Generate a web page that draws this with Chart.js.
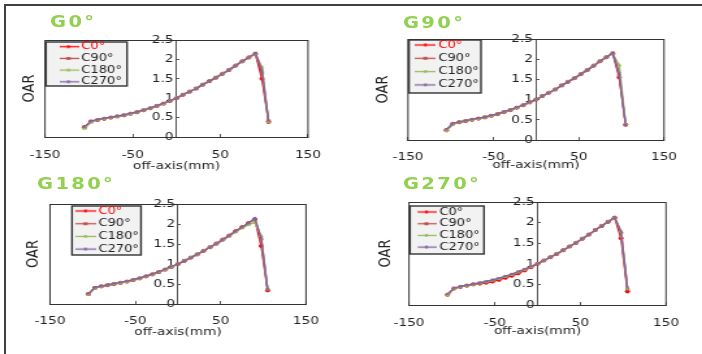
<!DOCTYPE html>
<html>
<head>
<meta charset="utf-8">
<script src="https://cdn.jsdelivr.net/npm/chart.js@4.4.1/dist/chart.umd.min.js"></script>
<style>
body { margin: 0; background: #fff; }
#page { position: relative; width: 702px; height: 354px; overflow: hidden; background: #fff; }
#frame { position: absolute; left: 4px; top: 4px; width: 700px; height: 352px; border-top: 2px solid #404040; border-left: 2px solid #404040; }
#stretch { position: absolute; left: 0; top: 0; width: 540px; height: 354px; transform: scaleX(1.3); transform-origin: 0 0; }
#stretch canvas { position: absolute; left: 0; top: 0; }
.gt { position: absolute; font: bold 15px "DejaVu Sans", sans-serif; color: #92D050; letter-spacing: 1.8px; line-height: 16px; white-space: nowrap; }
</style>
</head>
<body>
<div id="page">
  <div id="frame"></div>
  <div id="stretch">
    <canvas id="c1" width="540" height="354"></canvas>
    <canvas id="c2" width="540" height="354"></canvas>
    <canvas id="c3" width="540" height="354"></canvas>
    <canvas id="c4" width="540" height="354"></canvas>
    <div class="gt" style="left:38.5px;top:14px">G0°</div>
    <div class="gt" style="left:310px;top:15px">G90°</div>
    <div class="gt" style="left:28.5px;top:176px">G180°</div>
    <div class="gt" style="left:310px;top:176px">G270°</div>
  </div>
</div>
<script>
// off-axis positions (mm)
const offAxis = [-105, -97.5, -90, -82.5, -75, -67.5, -60, -52.5, -45, -37.5, -30, -22.5, -15, -7.5, 0,
                 7.5, 15, 22.5, 30, 37.5, 45, 52.5, 60, 67.5, 75, 82.5, 90, 97.5, 105];

const seriesNames = ['C0°', 'C90°', 'C180°', 'C270°'];
const xTicks = [-150, -50, 50, 150];
const yTicks = [0, 0.5, 1, 1.5, 2, 2.5];

// G0°
const g0_c0   = [0.25,0.40,0.44,0.47,0.50,0.53,0.56,0.60,0.64,0.69,0.74,0.80,0.86,0.93,1.00,1.09,1.17,1.25,1.35,1.44,1.53,1.63,1.73,1.84,1.95,2.05,2.14,1.50,0.40];
const g0_c90  = [0.26,0.40,0.44,0.47,0.50,0.53,0.56,0.60,0.64,0.69,0.74,0.80,0.86,0.93,1.00,1.09,1.17,1.25,1.35,1.44,1.53,1.63,1.73,1.84,1.95,2.05,2.15,1.65,0.38];
const g0_c180 = [0.22,0.38,0.44,0.47,0.50,0.53,0.56,0.60,0.64,0.69,0.74,0.80,0.86,0.93,1.00,1.09,1.17,1.25,1.35,1.44,1.53,1.63,1.73,1.84,1.95,2.05,2.14,1.80,0.40];
const g0_c270 = [0.26,0.41,0.45,0.48,0.51,0.54,0.57,0.61,0.65,0.70,0.75,0.81,0.87,0.94,1.00,1.09,1.17,1.25,1.35,1.44,1.53,1.63,1.73,1.84,1.95,2.05,2.17,1.72,0.42];
// G90°
const g90_c0   = [0.24,0.40,0.44,0.47,0.50,0.53,0.56,0.60,0.64,0.69,0.74,0.80,0.86,0.93,1.00,1.09,1.17,1.25,1.35,1.44,1.53,1.63,1.73,1.84,1.95,2.05,2.14,1.55,0.38];
const g90_c90  = [0.25,0.40,0.44,0.47,0.50,0.53,0.56,0.60,0.64,0.69,0.74,0.80,0.86,0.93,1.00,1.09,1.17,1.25,1.35,1.44,1.53,1.63,1.73,1.84,1.95,2.05,2.15,1.60,0.38];
const g90_c180 = [0.23,0.39,0.44,0.47,0.50,0.53,0.56,0.60,0.64,0.69,0.74,0.80,0.86,0.93,1.00,1.09,1.17,1.25,1.35,1.44,1.53,1.63,1.73,1.84,1.95,2.05,2.13,1.85,0.40];
const g90_c270 = [0.26,0.41,0.45,0.48,0.51,0.54,0.57,0.61,0.65,0.70,0.75,0.81,0.87,0.94,1.00,1.09,1.17,1.25,1.35,1.44,1.53,1.63,1.73,1.84,1.95,2.05,2.16,1.65,0.37];
// G180°
const g180_c0   = [0.25,0.40,0.44,0.47,0.50,0.53,0.56,0.60,0.64,0.69,0.74,0.80,0.86,0.93,1.00,1.08,1.16,1.24,1.33,1.42,1.51,1.61,1.71,1.82,1.92,2.02,2.12,1.45,0.34];
const g180_c90  = [0.25,0.40,0.44,0.47,0.50,0.53,0.56,0.60,0.64,0.69,0.74,0.80,0.86,0.93,1.00,1.08,1.16,1.24,1.33,1.42,1.51,1.61,1.71,1.82,1.92,2.02,2.12,1.62,0.36];
const g180_c180 = [0.24,0.39,0.44,0.47,0.50,0.53,0.56,0.60,0.64,0.69,0.74,0.80,0.86,0.93,1.00,1.08,1.16,1.24,1.33,1.42,1.50,1.60,1.70,1.80,1.90,1.98,2.04,1.70,0.38];
const g180_c270 = [0.26,0.41,0.45,0.48,0.51,0.54,0.57,0.61,0.65,0.70,0.75,0.81,0.87,0.94,1.00,1.08,1.16,1.24,1.33,1.42,1.51,1.61,1.71,1.82,1.92,2.02,2.15,1.65,0.37];
// G270°
const g270_c0   = [0.25,0.40,0.44,0.47,0.50,0.52,0.54,0.57,0.61,0.66,0.71,0.77,0.84,0.92,1.00,1.08,1.16,1.24,1.33,1.42,1.51,1.61,1.71,1.82,1.92,2.02,2.12,1.62,0.33];
const g270_c90  = [0.25,0.40,0.44,0.47,0.50,0.53,0.56,0.60,0.64,0.69,0.74,0.80,0.86,0.93,1.00,1.08,1.16,1.24,1.33,1.42,1.51,1.61,1.71,1.82,1.92,2.02,2.12,1.75,0.38];
const g270_c180 = [0.24,0.40,0.44,0.47,0.50,0.53,0.56,0.60,0.64,0.69,0.74,0.80,0.86,0.93,1.00,1.08,1.16,1.24,1.33,1.42,1.51,1.61,1.71,1.82,1.92,2.02,2.12,1.78,0.40];
const g270_c270 = [0.26,0.41,0.45,0.48,0.51,0.54,0.57,0.61,0.65,0.70,0.75,0.81,0.87,0.94,1.00,1.08,1.16,1.24,1.33,1.42,1.51,1.61,1.71,1.82,1.92,2.02,2.13,1.78,0.42];

const colors = ['#FF0000', '#C0504D', '#9BBB59', '#8064A2'];
const markers = ['circle', 'rect', 'triangle', 'crossRot'];

const S = 1.3, W = 540, H = 354;   // canvases are drawn narrow then stretched by S
const FS = 10;                      // legend font size

Chart.defaults.font.family = '"DejaVu Sans", Verdana, sans-serif';
Chart.defaults.color = '#222';

// little line + marker used as legend symbol
function legendIcon(color, style) {
  const c = document.createElement('canvas');
  c.width = 16; c.height = 7;
  const g = c.getContext('2d');
  g.strokeStyle = color; g.fillStyle = color; g.lineWidth = 1.3;
  g.beginPath(); g.moveTo(0, 3.5); g.lineTo(16, 3.5); g.stroke();
  if (style === 'rect') g.fillRect(6.5, 2, 3, 3);
  else { g.beginPath(); g.arc(8, 3.5, 1.4, 0, Math.PI * 2); g.fill(); }
  return c;
}

const panelFrame = {
  id: 'panelFrame',
  afterLayout(chart, args, o) {
    const lg = chart.legend;
    const pad = o.step - FS;
    const cx = o.x / S + o.ix / S - 5 + 8;   // cursor x for boxWidth 10, icon 16
    lg.left = cx - pad;
    lg.top = o.y + o.iy - FS / 2 - pad;
    lg.right = lg.left + 120;
    lg.bottom = lg.top + 80;
    lg.width = 120; lg.height = 80;
  },
  beforeDraw(chart, args, o) {
    const ctx = chart.ctx;
    ctx.save();
    ctx.fillStyle = '#f2f2f2';
    ctx.strokeStyle = '#333';
    ctx.lineWidth = 1.4;
    ctx.fillRect(o.x / S, o.y, o.w / S, o.h);
    ctx.strokeRect(o.x / S, o.y, o.w / S, o.h);
    ctx.restore();
  },
  afterDraw(chart) {
    const a = chart.chartArea, ctx = chart.ctx;
    ctx.save();
    ctx.strokeStyle = '#333';
    ctx.lineWidth = 1;
    ctx.strokeRect(a.left, a.top + 0.5, a.right - a.left, a.bottom - a.top);
    ctx.restore();
  }
};

const panels = [
  { id: 'c1', series: [g0_c0, g0_c90, g0_c180, g0_c270], l: 45, r: 308, t: 40, b: 137, oarX: 30, xH: 36, xPad: 14.7,
    legend: { x: 46, y: 42, w: 81, h: 44, ix: 12, iy: 4.7, step: 11.7 }, redFirst: true },
  { id: 'c2', series: [g90_c0, g90_c90, g90_c180, g90_c270], l: 408, r: 664, t: 39, b: 140, oarX: 383, xH: 32, xPad: 13.7,
    legend: { x: 409, y: 40, w: 72, h: 53, ix: 6, iy: 5, step: 13.3 }, redFirst: true },
  { id: 'c3', series: [g180_c0, g180_c90, g180_c180, g180_c270], l: 50, r: 306, t: 204, b: 304, oarX: 33, xH: 35, xPad: 13.7,
    legend: { x: 72, y: 206, w: 69, h: 49, ix: 3, iy: 5, step: 12.7 }, redFirst: true },
  { id: 'c4', series: [g270_c0, g270_c90, g270_c180, g270_c270], l: 409, r: 666, t: 202, b: 305, oarX: 386, xH: 33, xPad: 14.7,
    legend: { x: 410, y: 206, w: 74, h: 48, ix: 6, iy: 6, step: 11.7 }, redFirst: false }
];

panels.forEach(p => {
  const ytW = (p.l - p.oarX) / S + 7.8;
  const icons = colors.map((c, i) => legendIcon(c, markers[i]));
  const yMin = yTicks[0], yMax = yTicks[yTicks.length - 1], yStep = yTicks[1] - yTicks[0];
  new Chart(document.getElementById(p.id), {
    type: 'line',
    data: {
      datasets: p.series.map((vals, i) => ({
        label: seriesNames[i],
        data: offAxis.map((x, k) => ({ x: x, y: vals[k] })),
        borderColor: colors[i],
        backgroundColor: colors[i],
        borderWidth: 1.4,
        pointStyle: markers[i],
        pointRadius: 1.6,
        pointBorderWidth: 0.8,
        tension: 0,
        order: 3 - i,
        yAxisID: 'y'
      }))
    },
    options: {
      responsive: false,
      animation: false,
      devicePixelRatio: 1,
      layout: { padding: { left: p.l / S - ytW, right: W - p.r / S, top: p.t, bottom: H - p.b - p.xH } },
      plugins: {
        title: { display: false },
        tooltip: { enabled: false },
        legend: {
          position: 'chartArea',
          align: 'start',
          labels: {
            usePointStyle: true,
            pointStyleWidth: 10,
            padding: p.legend.step - FS,
            font: { size: FS },
            generateLabels: chart => chart.data.datasets.map((ds, i) => ({
              text: ds.label,
              fillStyle: ds.borderColor,
              strokeStyle: ds.borderColor,
              lineWidth: 0,
              pointStyle: icons[i],
              hidden: false,
              datasetIndex: i,
              fontColor: (i === 0 && p.redFirst) ? '#FF0000' : '#222'
            }))
          }
        },
        panelFrame: p.legend
      },
      scales: {
        x: {
          type: 'linear', position: 'bottom', min: xTicks[0], max: xTicks[xTicks.length - 1],
          ticks: { stepSize: xTicks[1] - xTicks[0], font: { size: 10.5 }, color: '#222', padding: p.xPad, maxRotation: 0, autoSkip: false },
          grid: { drawOnChartArea: false, drawTicks: true, tickLength: -3, color: '#555' },
          border: { display: true, color: '#555' },
          title: { display: true, text: 'off-axis(mm)', font: { size: 10.5 }, color: '#222', padding: 0 },
          afterFit(s) { s.height = p.xH; }
        },
        // axis line at x = 0 with inside tick marks
        y: {
          type: 'linear', position: { x: 0 }, min: yMin, max: yMax,
          ticks: { stepSize: yStep, display: false },
          grid: { drawOnChartArea: false, drawTicks: true, tickLength: -3, color: '#555' },
          border: { display: true, color: '#555' },
          afterFit(s) { s.width = 0; }
        },
        // tick labels just left of the x = 0 axis
        yl: {
          type: 'linear', position: { x: -3.5 }, min: yMin, max: yMax,
          ticks: { stepSize: yStep, font: { size: 10.5 }, color: '#222', callback: v => String(v) },
          grid: { display: false, drawTicks: false },
          border: { display: false },
          afterFit(s) { s.width = 0; }
        },
        yt: {
          type: 'linear', position: 'left', display: true,
          ticks: { display: false },
          grid: { display: false },
          border: { display: false },
          title: { display: true, text: 'OAR', font: { size: 13 }, color: '#222', padding: 0 },
          afterFit(s) { s.width = ytW; }
        }
      }
    },
    plugins: [panelFrame]
  });
});
</script>
</body>
</html>
